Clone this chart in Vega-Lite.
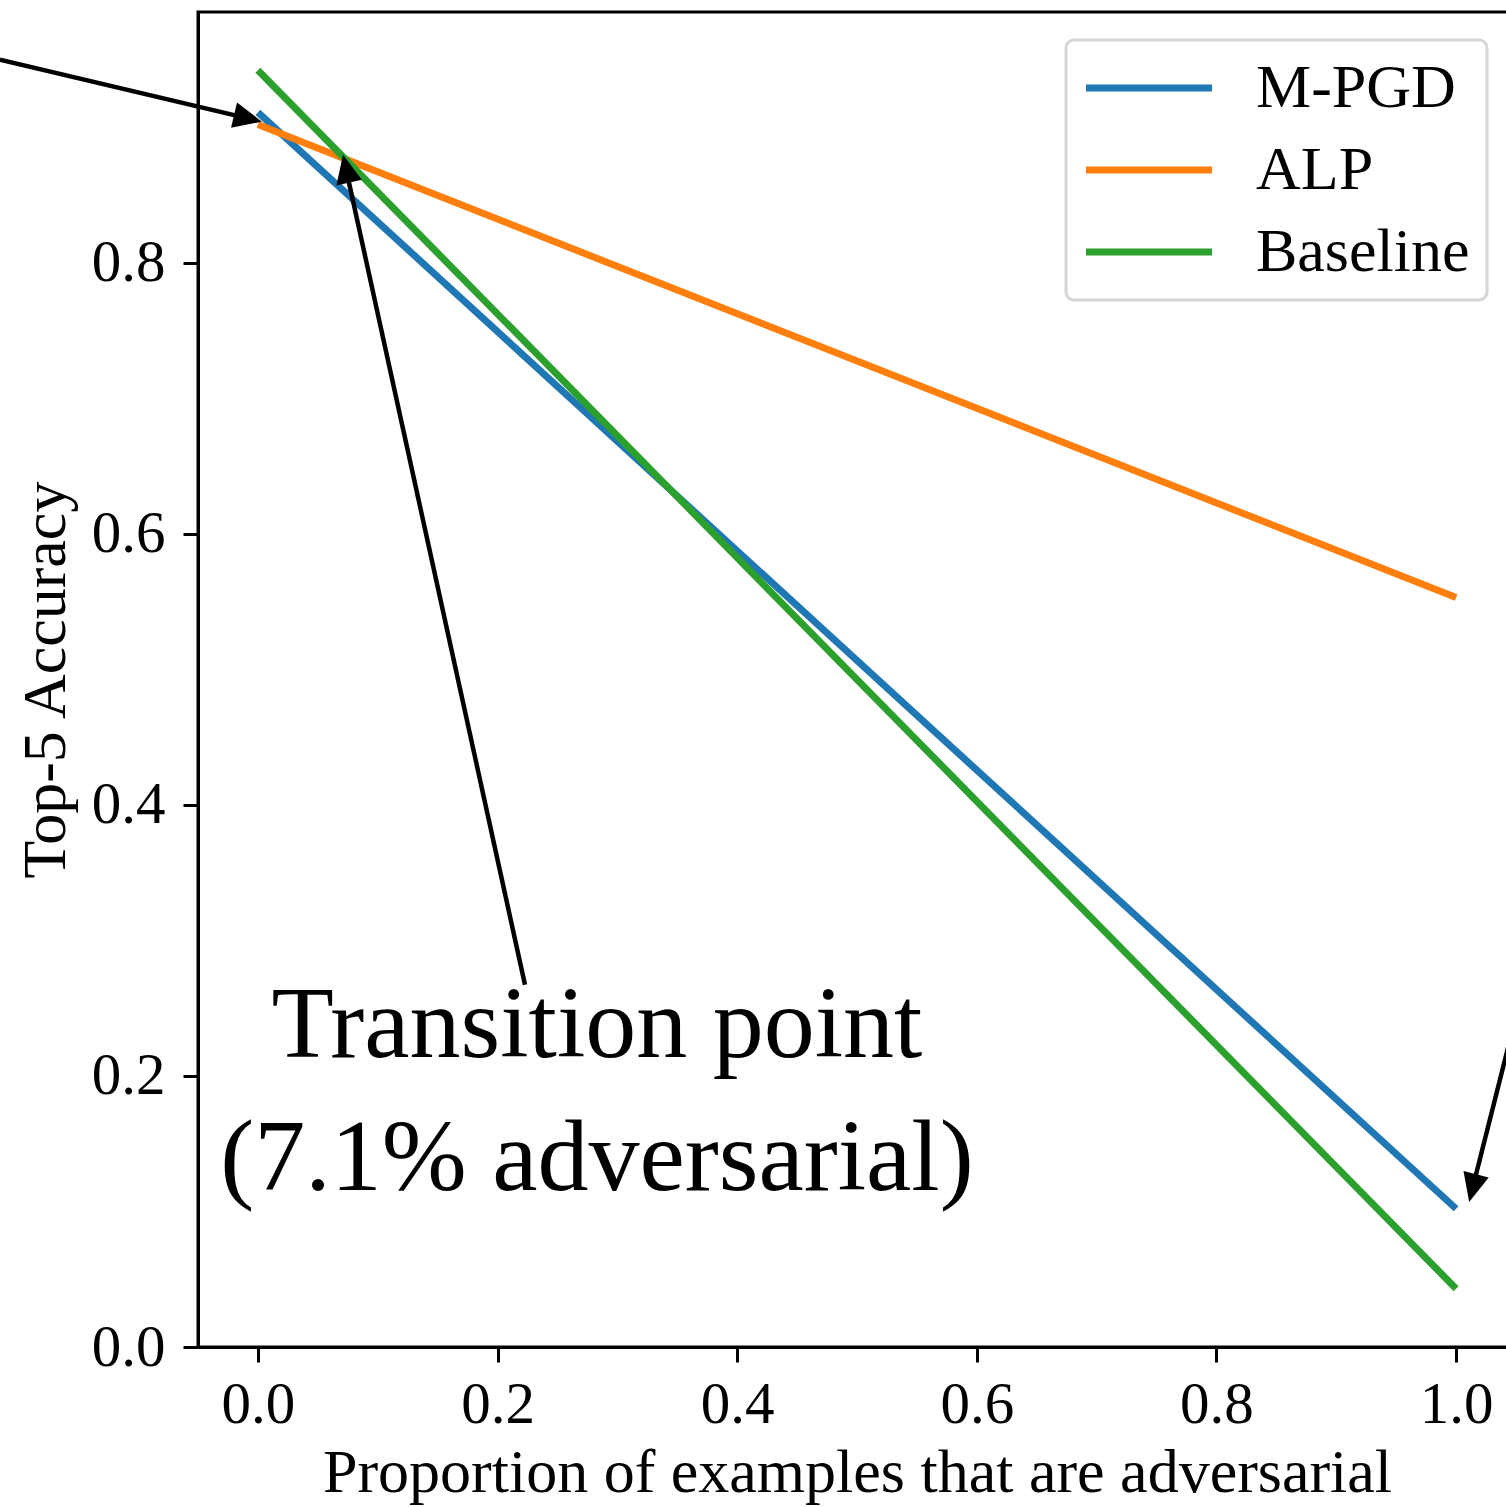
{
  "$schema": "https://vega.github.io/schema/vega-lite/v6.json",
  "width": 1318,
  "height": 1335,
  "autosize": {"type": "none"},
  "padding": {"left": 198, "top": 12, "right": 0, "bottom": 160},
  "background": "white",
  "config": {
    "font": "Liberation Serif",
    "view": {"stroke": "black", "strokeWidth": 3},
    "axis": {
      "grid": false,
      "domainColor": "black",
      "domainWidth": 3,
      "tickColor": "black",
      "tickWidth": 3,
      "tickSize": 15,
      "labelColor": "black",
      "titleColor": "black",
      "labelFont": "Liberation Serif",
      "titleFont": "Liberation Serif",
      "labelFontSize": 59,
      "titleFontSize": 62,
      "titleFontWeight": "normal"
    },
    "legend": {
      "strokeColor": "#d6d6d6",
      "strokeWidth": 3,
      "cornerRadius": 8,
      "fillColor": "white",
      "padding": 17,
      "labelFont": "Liberation Serif",
      "labelFontSize": 62,
      "labelColor": "black",
      "labelLimit": 600,
      "symbolStrokeWidth": 7,
      "rowPadding": 20
    }
  },
  "datasets": {
    "series": [
      {"proportion": 0, "accuracy": 0.911, "method": "M-PGD"},
      {"proportion": 1, "accuracy": 0.102, "method": "M-PGD"},
      {"proportion": 0, "accuracy": 0.902, "method": "ALP"},
      {"proportion": 1, "accuracy": 0.553, "method": "ALP"},
      {"proportion": 0, "accuracy": 0.942, "method": "Baseline"},
      {"proportion": 1, "accuracy": 0.043, "method": "Baseline"}
    ],
    "arrows": [
      {"x": -0.2154, "y": 0.9498, "x2": -0.0048, "y2": 0.9058, "tipx": 0.0033, "tipy": 0.9041, "angle": 103.3},
      {"x": 0.2229, "y": 0.2672, "x2": 0.0727, "y2": 0.8725, "tipx": 0.071, "tipy": 0.8797, "angle": -12.4},
      {"x": 1.0534, "y": 0.2561, "x2": 1.0129, "y2": 0.1142, "tipx": 1.0109, "tipy": 0.107, "angle": 194.1}
    ],
    "notes": [
      {"x": 0.283, "y": 0.214, "text": "Transition point"},
      {"x": 0.283, "y": 0.1159, "text": "(7.1% adversarial)"}
    ]
  },
  "layer": [
    {
      "data": {"name": "series"},
      "mark": {"type": "line", "strokeWidth": 7},
      "encoding": {
        "x": {
          "field": "proportion",
          "type": "quantitative",
          "scale": {"domain": [-0.05, 1.05], "nice": false, "zero": false},
          "axis": {"values": [0, 0.2, 0.4, 0.6, 0.8, 1.0], "format": ".1f", "labelPadding": 13, "titlePadding": 8, "labelFlush": false, "labelOverlap": false},
          "title": "Proportion of examples that are adversarial"
        },
        "y": {
          "field": "accuracy",
          "type": "quantitative",
          "scale": {"domain": [0, 0.985], "nice": false, "zero": false},
          "axis": {"values": [0, 0.2, 0.4, 0.6, 0.8], "format": ".1f", "labelPadding": 18, "titlePadding": 14, "labelFlush": false, "labelOverlap": false},
          "title": "Top-5 Accuracy"
        },
        "color": {
          "field": "method",
          "type": "nominal",
          "sort": ["M-PGD", "ALP", "Baseline"],
          "scale": {"domain": ["M-PGD", "ALP", "Baseline"], "range": ["#1f77b4", "#ff7f0e", "#2ca02c"]},
          "legend": {
            "title": null,
            "orient": "none",
            "legendX": 868,
            "legendY": 28,
            "symbolType": "M-3,0H3",
            "symbolSize": 1764,
            "symbolOffset": 35,
            "labelOffset": 76
          }
        }
      }
    },
    {
      "data": {"name": "arrows"},
      "mark": {"type": "rule", "color": "black", "strokeWidth": 4.5},
      "encoding": {
        "x": {"field": "x", "type": "quantitative"},
        "y": {"field": "y", "type": "quantitative"},
        "x2": {"field": "x2"},
        "y2": {"field": "y2"}
      }
    },
    {
      "data": {"name": "arrows"},
      "mark": {"type": "point", "shape": "M0,0L0.5,1.1L-0.5,1.1Z", "filled": true, "color": "black", "opacity": 1, "size": 2700, "strokeWidth": 0},
      "encoding": {
        "x": {"field": "tipx", "type": "quantitative"},
        "y": {"field": "tipy", "type": "quantitative"},
        "angle": {"field": "angle", "type": "quantitative", "scale": null}
      }
    },
    {
      "data": {"name": "notes"},
      "mark": {"type": "text", "font": "Liberation Serif", "fontSize": 102, "align": "center", "baseline": "alphabetic", "color": "black"},
      "encoding": {
        "x": {"field": "x", "type": "quantitative"},
        "y": {"field": "y", "type": "quantitative"},
        "text": {"field": "text"}
      }
    }
  ]
}
